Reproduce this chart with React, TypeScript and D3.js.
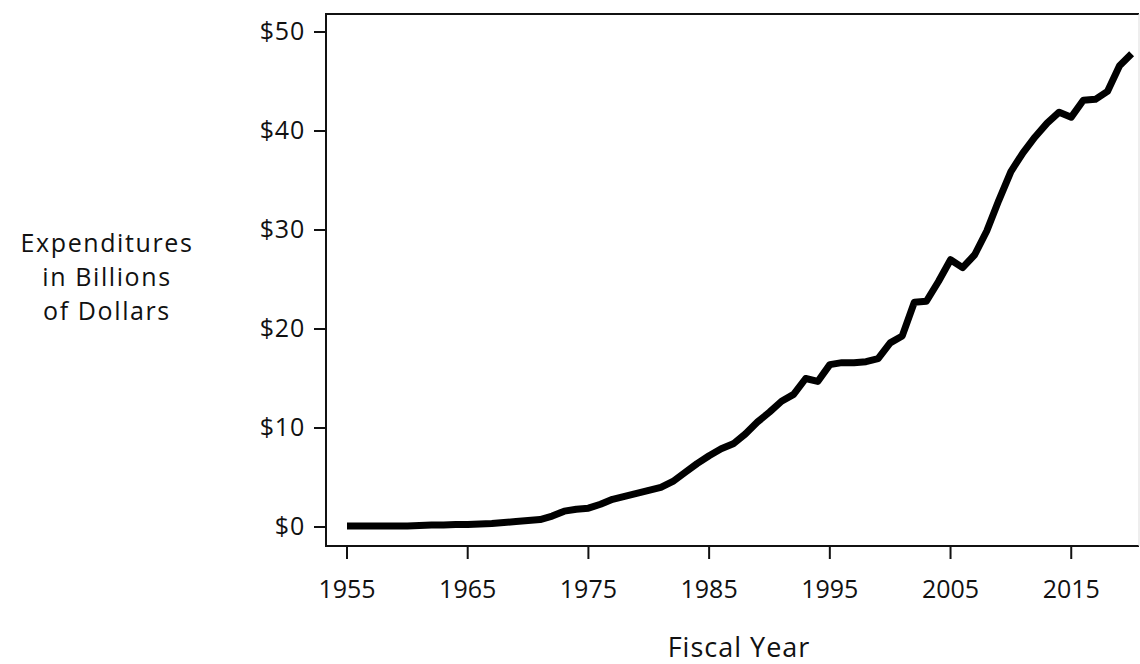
import React from "react";
import * as d3 from "d3";

const years: number[] = d3.range(1955, 2021);
const spending: number[] = [
  0.1, 0.1, 0.1, 0.1, 0.1, 0.1, // 1955-1960
  0.15, 0.2, 0.2, 0.25, 0.25, // 1961-1965
  0.3, 0.35, 0.45, 0.55, 0.65, // 1966-1970
  0.75, 1.1, 1.6, 1.8, 1.9, // 1971-1975
  2.3, 2.8, 3.1, 3.4, 3.7, // 1976-1980
  4.0, 4.6, 5.5, 6.4, 7.2, // 1981-1985
  7.9, 8.4, 9.4, 10.6, 11.6, // 1986-1990
  12.7, 13.4, 15.0, 14.7, 16.4, // 1991-1995
  16.6, 16.6, 16.7, 17.0, 18.6, // 1996-2000
  19.3, 22.7, 22.8, 24.8, 27.0, // 2001-2005
  26.2, 27.5, 29.9, 33.0, 35.9, // 2006-2010
  37.8, 39.4, 40.8, 41.9, 41.4, // 2011-2015
  43.1, 43.2, 44.0, 46.6, 47.8, // 2016-2020
];
const xTicks: number[] = [1955, 1965, 1975, 1985, 1995, 2005, 2015];
const yTicks: number[] = [0, 10, 20, 30, 40, 50];
const yTitle: string[] = ["Expenditures", "in Billions", "of Dollars"];
const xTitle = "Fiscal Year";

const W = 1140;
const H = 664;
const FONT = "'Open Sans', 'Noto Sans', sans-serif";

export default function App() {
  const frame = { left: 326, top: 14, right: 1139, bottom: 546 };
  const x = d3.scaleLinear().domain([1955, 2020]).range([347, 1131.6]);
  const y = d3.scaleLinear().domain([0, 50]).range([527, 32]);
  const line = d3
    .line<number>()
    .x((_, i) => x(years[i]))
    .y((d) => y(d))
    .curve(d3.curveLinear);

  return (
    <svg
      width={W}
      height={H}
      style={{ position: "absolute", left: 0, top: 0, background: "#fff" }}
      fontFamily={FONT}
    >
      <rect x={0} y={0} width={W} height={H} fill="#fff" />
      {/* frame */}
      <path
        d={`M${frame.right},${frame.top}H${frame.left}V${frame.bottom}H${frame.right}`}
        fill="none"
        stroke="#111"
        strokeWidth={2}
      />
      <line x1={frame.right} x2={frame.right} y1={frame.top} y2={frame.bottom} stroke="#ddd" strokeWidth={1} />
      {/* y ticks */}
      {yTicks.map((t) => (
        <g key={t}>
          <line x1={314} x2={frame.left} y1={y(t)} y2={y(t)} stroke="#111" strokeWidth={2} />
          <text x={305} y={y(t) + 8} textAnchor="end" fontSize={25} letterSpacing={0.8} fill="#111">
            {`$${t}`}
          </text>
        </g>
      ))}
      {/* x ticks */}
      {xTicks.map((t) => (
        <g key={t}>
          <line x1={x(t)} x2={x(t)} y1={frame.bottom} y2={559} stroke="#111" strokeWidth={2} />
          <text x={x(t)} y={598} textAnchor="middle" fontSize={25} fill="#111">
            {t}
          </text>
        </g>
      ))}
      {/* data line */}
      <path d={line(spending) ?? ""} fill="none" stroke="#000" strokeWidth={7} strokeLinejoin="round" strokeLinecap="butt" />
      {/* titles */}
      {yTitle.map((s, i) => (
        <text key={s} x={107} y={252 + i * 34} textAnchor="middle" fontSize={25} letterSpacing={1.6} fill="#111">
          {s}
        </text>
      ))}
      <text x={739} y={657} textAnchor="middle" fontSize={27} letterSpacing={1} fill="#111">
        {xTitle}
      </text>
    </svg>
  );
}
